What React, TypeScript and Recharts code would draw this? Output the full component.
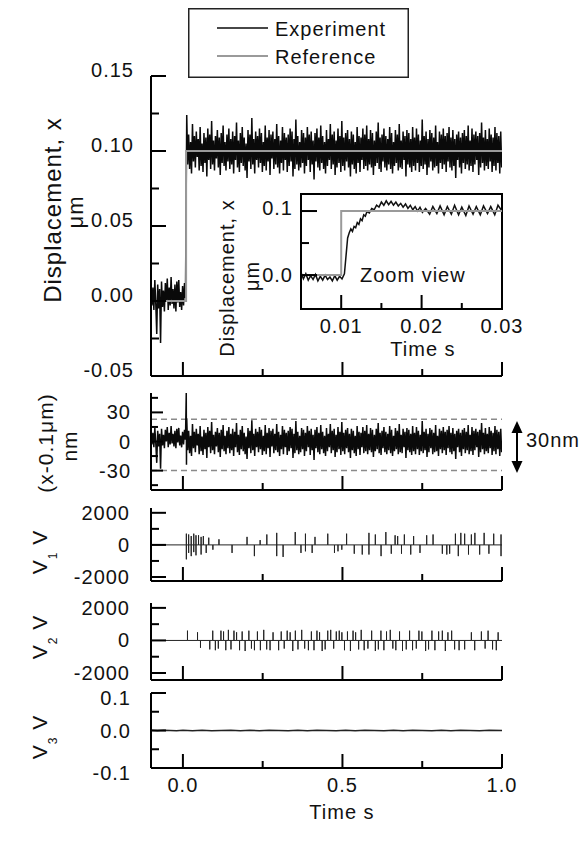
import React from 'react';
import { LineChart, Line, XAxis, YAxis, ReferenceLine, ReferenceArea, Legend } from 'recharts';

const FONT = '"Liberation Sans", Arial, Helvetica, sans-serif';
const INK = '#111';
const W = 585;
const H = 843;

// ---------- shared time axis ----------
const timeDomain: [number, number] = [-0.1, 1.0];
const timeTicks = [0, 0.25, 0.5, 0.75, 1.0];
const timeMajor = [0, 0.5, 1.0];
const timeLabels = ['0.0', '0.5', '1.0'];

// ---------- panel 1 : displacement ----------
const dispDomain: [number, number] = [-0.05, 0.15];
const dispTicks = [-0.05, -0.025, 0, 0.025, 0.05, 0.075, 0.1, 0.125, 0.15];
const dispMajor = [0.15, 0.1, 0.05, 0, -0.05];
const dispLabels = ['0.15', '0.10', '0.05', '0.00', '-0.05'];

const SAMPLE_DT = 0.003;
const preStart = -0.1;
// deviation (nm) before the step
const preNoiseNm = [12, -3, 9, -6, 14, -2, -22, 11, -5, 8, -28, 13, -4, 7, -7, 12, 0, 15, -6, 9, -3, 16, -2, 8, -5, 11, -7, 13, -1, 14, -4, 6, -6, 10, -3, 12, 2];
const stepStart = 0.012;
const stepLevel = 0.1;
// deviation (nm) from the 0.1 um set point after the step
const stepNoiseNm = [
  24, -9, 11, -12, 6, -15, 18, -7, 10, -11, 13, -4, 8, -13, 16,
  -10, 5, -14, 12, -8, 9, -17, 15, -6, 11, -12, 20, -9, 7, -13,
  10, -5, 14, -11, 9, -16, 12, -8, 17, -10, 6, -13, 11, -7, 15,
  -12, 8, -9, 13, -15, 10, -6, 19, -11, 7, -14, 12, -8, 16, -10,
  9, -13, 5, -18, 14, -7, 11, -12, 22, -9, 8, -15, 13, -6, 10,
  -11, 15, -8, 12, -14, 6, -10, 17, -13, 9, -7, 14, -16, 11, -5,
  13, -12, 8, -9, 18, -11, 10, -15, 7, -8, 16, -13, 12, -6, 9,
  -14, 11, -10, 15, -7, 13, -17, 8, -12, 21, -9, 10, -13, 6, -11,
  14, -8, 12, -15, 9, -10, 16, -6, 11, -14, 13, -9, 7, -19, 12,
  -7, 15, -11, 9, -13, 17, -8, 10, -12, 6, -15, 14, -10, 8, -6,
  18, -12, 11, -9, 13, -16, 7, -11, 15, -8, 10, -14, 20, -10, 9,
  -13, 12, -7, 14, -11, 8, -17, 13, -9, 11, -12, 6, -15, 16, -8,
  10, -14, 9, -6, 15, -12, 11, -10, 17, -13, 8, -9, 14, -11, 12,
  -16, 7, -10, 13, -8, 19, -12, 9, -14, 11, -7, 15, -11, 10, -13,
  8, -9, 16, -12, 12, -15, 6, -10, 14, -8, 11, -13, 18, -11, 7,
  -12, 13, -6, 10, -17, 14, -9, 12, -11, 8, -14, 16, -10, 9, -13,
  15, -8, 11, -14, 7, -10, 21, -12, 10, -9, 13, -16, 8, -11, 14,
  -7, 12, -13, 9, -11, 17, -10, 6, -15, 13, -8, 11, -12, 15, -9,
  10, -14, 12, -7, 16, -11, 9, -13, 14, -10, 8, -18, 11, -6, 13,
  -11, 9, -15, 12, -8, 14, -12, 10, -9, 17, -13, 7, -10, 15, -14,
  11, -9, 13, -6, 10, -16, 12, -11, 19, -8, 9, -13, 14, -10, 8,
  -12, 15, -7, 11, -14, 9, -10, 16, -13, 12, -8, 10, -15, 13, -11,
];
const referenceT = [-0.1, 0.01, 0.01, 1.0];
const referenceX = [0, 0, 0.1, 0.1];

// ---------- panel 2 : error ----------
const errDomain: [number, number] = [-50, 50];
const errTicks = [-45, -30, -15, 0, 15, 30, 45];
const errMajor = [30, 0, -30];
const errLabels = ['30', '0', '-30'];
const transientNm = [[0.0105, 50], [0.0112, -24]];
const bandLimitsNm = [23, -30];

// ---------- panels 3/4 : V1, V2 ----------
const v1Domain: [number, number] = [-2250, 2300];
const v2Domain: [number, number] = [-2430, 2300];
const voltTicks = [-2000, -1000, 0, 1000, 2000];
const voltMajor = [2000, 0, -2000];
const voltLabels = ['2000', '0', '-2000'];

const v1Spikes = [
  [0.0108, -900], [0.0108, 700], [0.018, 650], [0.018, -500], [0.026, -700], [0.026, 550], [0.034, 700], [0.034, -450],
  [0.041, -650], [0.041, 600], [0.049, 600], [0.057, -600], [0.057, 500], [0.064, 550], [0.073, -500], [0.081, 450],
  [0.094, -300], [0.113, 350], [0.154, -500], [0.201, 500], [0.224, -700], [0.242, 300], [0.263, 650],
  [0.294, 750], [0.294, -700], [0.314, -750], [0.352, 800], [0.370, -500], [0.384, 700], [0.384, -400],
  [0.405, -500], [0.414, 500], [0.454, 700], [0.475, -500], [0.486, -400], [0.498, -300], [0.513, 700],
  [0.537, -550], [0.562, -600], [0.583, 750], [0.583, -600], [0.603, 650], [0.621, -700], [0.636, 800],
  [0.653, -550], [0.665, 600], [0.673, 550], [0.685, -550], [0.694, 650], [0.714, -600], [0.723, 550],
  [0.743, -500], [0.764, 600], [0.784, 650], [0.813, -550], [0.827, -600], [0.836, -550], [0.854, 700],
  [0.863, -700], [0.871, 750], [0.883, 700], [0.895, -600], [0.904, 650], [0.915, 750], [0.930, -600],
  [0.944, 750], [0.959, -550], [0.974, 700], [0.997, 650], [0.997, -700],
];

const v2Spikes = [
  [0.0143, 600], [0.0458, 500], [0.0551, -450], [0.0842, -550], [0.0935, 600], [0.1017, -600], [0.111, -500],
  [0.1192, 600], [0.1274, 550], [0.1344, -600], [0.1425, 650], [0.1507, -550], [0.16, 600], [0.1682, 500],
  [0.1775, -600], [0.1857, 550], [0.195, -650], [0.2067, 600], [0.2148, -500], [0.2242, -600], [0.2335, 550],
  [0.2428, -600], [0.2533, 650], [0.2626, -550], [0.2731, -600], [0.2825, 500], [0.3, -600], [0.3081, 550],
  [0.3175, -500], [0.3268, 600], [0.3361, 500], [0.3443, -650], [0.3524, 600], [0.3606, -550], [0.3723, 650],
  [0.3816, -500], [0.3933, -600], [0.4026, 550], [0.4108, -600], [0.4201, 600], [0.4283, 500], [0.4364, -650],
  [0.4458, -550], [0.4539, 600], [0.4632, 650], [0.4725, -500], [0.4807, 550], [0.49, 600], [0.4982, 500],
  [0.5064, -600], [0.5157, 550], [0.525, -650], [0.5332, 600], [0.5413, 500], [0.5507, -550], [0.5588, 650],
  [0.5681, -600], [0.5798, -500], [0.5915, 600], [0.6031, -650], [0.6125, -550], [0.6206, 600], [0.6299, -600],
  [0.6381, 550], [0.6498, 650], [0.6579, -500], [0.6673, -600], [0.6789, 550], [0.6882, -650], [0.6999, -550],
  [0.7104, 600], [0.7197, -600], [0.7314, -500], [0.7396, 600], [0.7489, 550], [0.7606, -650], [0.7699, -550],
  [0.7804, 600], [0.7897, -600], [0.8014, 550], [0.813, 600], [0.8224, -650], [0.8305, 500], [0.8422, 600],
  [0.8515, -550], [0.8655, -600], [0.883, -550], [0.904, 500], [0.9145, -600], [0.9354, 550], [0.9471, -500],
  [0.9564, 600], [0.9704, -550], [0.9821, -600], [0.9879, 500],
];

// ---------- panel 5 : V3 ----------
const v3Domain: [number, number] = [-0.1, 0.1];
const v3Ticks = [-0.1, -0.05, 0, 0.05, 0.1];
const v3Major = [0.1, 0, -0.1];
const v3Labels = ['0.1', '0.0', '-0.1'];
const v3Samples = [
  [-0.1, 0.0004], [-0.08, -0.0004], [-0.06, 0.0004], [-0.04, 0], [-0.02, -0.0004], [0, 0.0004], [0.03, -0.0004],
  [0.06, 0.0004], [0.09, -0.0004], [0.12, 0], [0.15, 0.0004], [0.18, -0.0004], [0.21, 0.0004], [0.24, -0.0004],
  [0.27, 0.0004], [0.3, 0], [0.33, -0.0004], [0.36, 0.0004], [0.39, -0.0004], [0.42, 0.0004], [0.45, 0],
  [0.48, -0.0004], [0.51, 0.0004], [0.54, -0.0004], [0.57, 0.0004], [0.6, 0], [0.63, -0.0004], [0.66, 0.0004],
  [0.69, -0.0004], [0.72, 0.0004], [0.75, 0], [0.78, -0.0004], [0.81, 0.0004], [0.84, -0.0004], [0.87, 0.0004],
  [0.9, 0], [0.93, -0.0004], [0.96, 0.0004], [1.0, 0],
];

// ---------- inset ----------
const insetXDomain: [number, number] = [0.005, 0.03];
const insetYDomain: [number, number] = [-0.053, 0.1266];
const insetXTicks = [0.01, 0.015, 0.02, 0.025, 0.03];
const insetXMajor = [0.01, 0.02, 0.03];
const insetXLabels = ['0.01', '0.02', '0.03'];
const insetYTicks = [0, 0.05, 0.1];
const insetYMajor = [0.1, 0];
const insetYLabels = ['0.1', '0.0'];
const insetExperiment = [
  [0.005, 0.004], [0.0053, -0.006], [0.0056, 0.002], [0.0059, -0.008], [0.0062, -0.001], [0.0065, -0.007],
  [0.0068, 0.001], [0.0071, -0.009], [0.0074, -0.002], [0.0077, -0.008], [0.008, 0.0], [0.0083, -0.007],
  [0.0086, -0.003], [0.0089, -0.009], [0.0092, -0.001], [0.0095, -0.008], [0.0098, -0.002], [0.0101, -0.006],
  [0.0104, 0.002], [0.0106, 0.03], [0.0108, 0.058], [0.011, 0.066], [0.0112, 0.072], [0.0114, 0.068],
  [0.0116, 0.076], [0.0118, 0.074], [0.012, 0.082], [0.0122, 0.079], [0.0124, 0.088], [0.0126, 0.085],
  [0.0128, 0.094], [0.013, 0.092], [0.0132, 0.099], [0.0135, 0.097], [0.0138, 0.104], [0.0141, 0.102],
  [0.0144, 0.109], [0.0147, 0.106], [0.015, 0.114], [0.0153, 0.109], [0.0156, 0.116], [0.0159, 0.11],
  [0.0162, 0.115], [0.0165, 0.109], [0.0168, 0.114], [0.0171, 0.108], [0.0174, 0.112], [0.0177, 0.106],
  [0.018, 0.111], [0.0183, 0.104], [0.0186, 0.109], [0.0189, 0.102], [0.0192, 0.107], [0.0195, 0.1],
  [0.0198, 0.106], [0.0201, 0.098], [0.0205, 0.104], [0.021, 0.095], [0.0214, 0.107], [0.0219, 0.096],
  [0.0223, 0.108], [0.0228, 0.094], [0.0232, 0.107], [0.0237, 0.095], [0.0241, 0.109], [0.0246, 0.094],
  [0.025, 0.106], [0.0255, 0.093], [0.0259, 0.108], [0.0264, 0.095], [0.0268, 0.107], [0.0273, 0.094],
  [0.0277, 0.108], [0.0282, 0.096], [0.0286, 0.107], [0.0291, 0.094], [0.0295, 0.109], [0.03, 0.1],
];
const insetRefT = [0.005, 0.01, 0.01, 0.03];
const insetRefX = [0, 0, 0.1, 0.1];

// ---------- derived series tables ----------
const expData = [
  ...preNoiseNm.map((n, i) => ({ t: preStart + i * SAMPLE_DT, v: n / 1000 })),
  ...stepNoiseNm.map((n, i) => ({ t: stepStart + i * SAMPLE_DT, v: stepLevel + n / 1000 })),
];
const refData = referenceT.map((t, i) => ({ t, v: referenceX[i] }));
const errData = [
  ...preNoiseNm.map((n, i) => ({ t: preStart + i * SAMPLE_DT, v: n })),
  ...transientNm.map(([t, v]) => ({ t, v })),
  ...stepNoiseNm.map((n, i) => ({ t: stepStart + i * SAMPLE_DT, v: n })),
];
const spikeSeries = (spikes: number[][]) => {
  const pts: { t: number; v: number }[] = [{ t: timeDomain[0], v: 0 }];
  spikes.forEach(([t, v]) => {
    pts.push({ t, v: 0 }, { t, v }, { t, v: 0 });
  });
  pts.push({ t: timeDomain[1], v: 0 });
  return pts;
};
const v1Data = spikeSeries(v1Spikes);
const v2Data = spikeSeries(v2Spikes);
const v3Data = v3Samples.map(([t, v]) => ({ t, v }));
const insetExpData = insetExperiment.map(([t, v]) => ({ t, v }));
const insetRefData = insetRefT.map((t, i) => ({ t, v: insetRefX[i] }));

// ---------- tick renderers ----------
const near = (a: number, b: number) => Math.abs(a - b) < 1e-9;
const txt = { fontFamily: FONT, fontSize: 20, fill: INK, letterSpacing: 1 } as const;

const makeXTick = (major: number[], labels: string[] | null, majorLen: number, minorLen: number) => (props: any) => {
  const { x, y, payload } = props;
  const idx = major.findIndex((m) => near(m, payload.value));
  const len = idx >= 0 ? majorLen : minorLen;
  return (
    <g>
      <line x1={x} x2={x} y1={y} y2={y - len} stroke="#000" strokeWidth={2} />
      {labels && idx >= 0 ? (
        <text x={x} y={y + 24} textAnchor="middle" {...txt}>
          {labels[idx]}
        </text>
      ) : null}
    </g>
  );
};

const makeYTick = (
  major: number[],
  labels: string[],
  majorLen: number,
  minorLen: number,
  gap: number,
  dys: number[],
) => (props: any) => {
  const { x, y, payload } = props;
  const idx = major.findIndex((m) => near(m, payload.value));
  const len = idx >= 0 ? majorLen : minorLen;
  return (
    <g>
      <line x1={x} x2={x + len} y1={y} y2={y} stroke="#000" strokeWidth={2} />
      {idx >= 0 ? (
        <text x={x - gap} y={y + dys[idx]} textAnchor="end" {...txt}>
          {labels[idx]}
        </text>
      ) : null}
    </g>
  );
};

const rot = (x: number, y: number) => `rotate(-90 ${x} ${y})`;

const AX = { stroke: '#000', strokeWidth: 2 };

const timeAxis = (withLabels: boolean, title?: any) => (
  <XAxis
    dataKey="t"
    type="number"
    domain={timeDomain}
    ticks={timeTicks}
    interval={0}
    tickSize={0}
    tickMargin={0}
    tickLine={false}
    height={1}
    axisLine={AX}
    allowDataOverflow
    tick={makeXTick(timeMajor, withLabels ? timeLabels : null, 14, 7)}
    label={title}
  />
);

// ---------- titles / annotations ----------
const P1Title = () => (
  <g>
    <text transform={rot(61, 210)} x={61} y={210} textAnchor="middle" {...txt} fontSize={24}>
      Displacement, x
    </text>
    <text transform={rot(83, 212)} x={83} y={212} textAnchor="middle" {...txt} fontSize={22}>
      μm
    </text>
  </g>
);

const P2Title = () => (
  <g>
    <text transform={rot(53, 443)} x={53} y={443} textAnchor="middle" {...txt} fontSize={21}>
      (x-0.1μm)
    </text>
    <text transform={rot(77, 446)} x={77} y={446} textAnchor="middle" {...txt} fontSize={21}>
      nm
    </text>
    <line x1={517} x2={517} y1={430} y2={465} stroke="#000" strokeWidth={2} />
    <polygon points="517,421 511.5,433 522.5,433" fill="#000" />
    <polygon points="517,473 511.5,461 522.5,461" fill="#000" />
    <text x={526} y={447} {...txt}>
      30nm
    </text>
  </g>
);

const VTitle = (n: string, cy: number) => () => (
  <text transform={rot(47, cy)} x={47} y={cy} textAnchor="middle" {...txt} fontSize={21}>
    V<tspan fontSize={12} dy={10}>{n}</tspan>
    <tspan dy={-10}> V</tspan>
  </text>
);

const BottomTitle = () => (
  <text x={342} y={819} textAnchor="middle" {...txt}>
    Time s
  </text>
);

const InsetTitle = () => (
  <g>
    <text transform={rot(234, 278)} x={234} y={278} textAnchor="middle" {...txt}>
      Displacement, x
    </text>
    <text transform={rot(259, 276)} x={259} y={276} textAnchor="middle" {...txt}>
      μm
    </text>
    <text x={360} y={282} {...txt}>
      Zoom view
    </text>
  </g>
);

const InsetXTitle = () => (
  <text x={423} y={356} textAnchor="middle" {...txt}>
    Time s
  </text>
);

const renderLegend = (props: any) => {
  const items = (props && props.payload) || [];
  return (
    <svg width={221} height={70} style={{ display: 'block' }}>
      <rect x={0.75} y={0.75} width={219.5} height={68.5} fill="#fff" stroke="#222" strokeWidth={1.5} />
      {items.map((it: any, i: number) => (
        <g key={i}>
          <line x1={29} x2={80} y1={20 + i * 28} y2={20 + i * 28} stroke={it.color} strokeWidth={i === 0 ? 1.5 : 2} />
          <text x={87} y={28 + i * 28} {...txt}>
            {it.value}
          </text>
        </g>
      ))}
    </svg>
  );
};

const layer: React.CSSProperties = { position: 'absolute', left: 0, top: 0 };

// plot area: x 151..502, y top..bottom (axes are 1px wide/high)
const panelMargin = (top: number, bottom: number) => ({ top, bottom: H - bottom - 1, left: 150, right: W - 502 });

const yCommon = {
  type: 'number' as const,
  interval: 0 as const,
  tickSize: 0,
  tickMargin: 0,
  tickLine: false,
  width: 1,
  axisLine: AX,
  allowDataOverflow: true,
};

export default function App() {
  return (
    <div style={{ position: 'absolute', left: 0, top: 0, width: W, height: H, background: '#fff', overflow: 'hidden' }}>
      {/* Panel 1: displacement */}
      <div style={layer}>
        <LineChart width={W} height={H} margin={panelMargin(76, 376)}>
          {timeAxis(false)}
          <YAxis
            {...yCommon}
            domain={dispDomain}
            ticks={dispTicks}
            tick={makeYTick(dispMajor, dispLabels, 15, 8, 17, [1, 1, 1, 1, 1])}
            label={{ content: P1Title }}
          />
          <Line data={expData} dataKey="v" name="Experiment" stroke="#0a0a0a" strokeWidth={1.5} dot={false} type="linear" isAnimationActive={false} />
          <Line data={refData} dataKey="v" name="Reference" stroke="#9a9a9a" strokeWidth={2} dot={false} type="linear" isAnimationActive={false} />
          <Legend
            content={renderLegend}
            layout="vertical"
            align="center"
            verticalAlign="middle"
            wrapperStyle={{ position: 'absolute', left: 188, top: 8, width: 221, height: 70 }}
          />
        </LineChart>
      </div>

      {/* Inset */}
      <div style={layer}>
        <LineChart width={W} height={H} margin={{ top: 194, bottom: H - 309 - 1, left: 300, right: W - 502 }}>
          <XAxis
            dataKey="t"
            type="number"
            domain={insetXDomain}
            ticks={insetXTicks}
            interval={0}
            tickSize={0}
            tickMargin={0}
            tickLine={false}
            height={1}
            axisLine={AX}
            allowDataOverflow
            tick={makeXTick(insetXMajor, insetXLabels, 14, 6)}
            label={{ content: InsetXTitle }}
          />
          <YAxis
            {...yCommon}
            domain={insetYDomain}
            ticks={insetYTicks}
            tick={makeYTick(insetYMajor, insetYLabels, 16, 8, 8, [4, 7])}
            label={{ content: InsetTitle }}
          />
          <ReferenceArea x1={insetXDomain[0]} x2={insetXDomain[1]} y1={insetYDomain[0]} y2={insetYDomain[1]} fill="none" fillOpacity={0} stroke="#000" strokeWidth={2} />
          <Line data={insetExpData} dataKey="v" stroke="#111" strokeWidth={1.5} dot={false} type="linear" isAnimationActive={false} />
          <Line data={insetRefData} dataKey="v" stroke="#9a9a9a" strokeWidth={2} dot={false} type="linear" isAnimationActive={false} />
        </LineChart>
      </div>

      {/* Panel 2: error */}
      <div style={layer}>
        <LineChart width={W} height={H} margin={panelMargin(393, 490)}>
          {timeAxis(false)}
          <YAxis
            {...yCommon}
            domain={errDomain}
            ticks={errTicks}
            tick={makeYTick(errMajor, errLabels, 12, 7, 20, [7, 7, 7])}
            label={{ content: P2Title }}
          />
          {bandLimitsNm.map((b) => (
            <ReferenceLine key={b} y={b} stroke="#8a8a8a" strokeWidth={1.5} strokeDasharray="6 4" />
          ))}
          <Line data={errData} dataKey="v" stroke="#0a0a0a" strokeWidth={1.5} dot={false} type="linear" isAnimationActive={false} />
        </LineChart>
      </div>

      {/* Panel 3: V1 */}
      <div style={layer}>
        <LineChart width={W} height={H} margin={panelMargin(508, 581)}>
          {timeAxis(false)}
          <YAxis
            {...yCommon}
            domain={v1Domain}
            ticks={voltTicks}
            tick={makeYTick(voltMajor, voltLabels, 15, 8, 21, [7, 7, 7])}
            label={{ content: VTitle('1', 552) }}
          />
          <Line data={v1Data} dataKey="v" stroke="#222" strokeWidth={1} dot={false} type="linear" isAnimationActive={false} />
        </LineChart>
      </div>

      {/* Panel 4: V2 */}
      <div style={layer}>
        <LineChart width={W} height={H} margin={panelMargin(603, 680)}>
          {timeAxis(false)}
          <YAxis
            {...yCommon}
            domain={v2Domain}
            ticks={voltTicks}
            tick={makeYTick(voltMajor, voltLabels, 15, 8, 21, [7, 7, 7])}
            label={{ content: VTitle('2', 637) }}
          />
          <Line data={v2Data} dataKey="v" stroke="#222" strokeWidth={1} dot={false} type="linear" isAnimationActive={false} />
        </LineChart>
      </div>

      {/* Panel 5: V3 */}
      <div style={layer}>
        <LineChart width={W} height={H} margin={panelMargin(693, 768)}>
          {timeAxis(true, { content: BottomTitle })}
          <YAxis
            {...yCommon}
            domain={v3Domain}
            ticks={v3Ticks}
            tick={makeYTick(v3Major, v3Labels, 15, 8, 20, [12, 7, 12])}
            label={{ content: VTitle('3', 737) }}
          />
          <Line data={v3Data} dataKey="v" stroke="#222" strokeWidth={1.5} dot={false} type="linear" isAnimationActive={false} />
        </LineChart>
      </div>
    </div>
  );
}
